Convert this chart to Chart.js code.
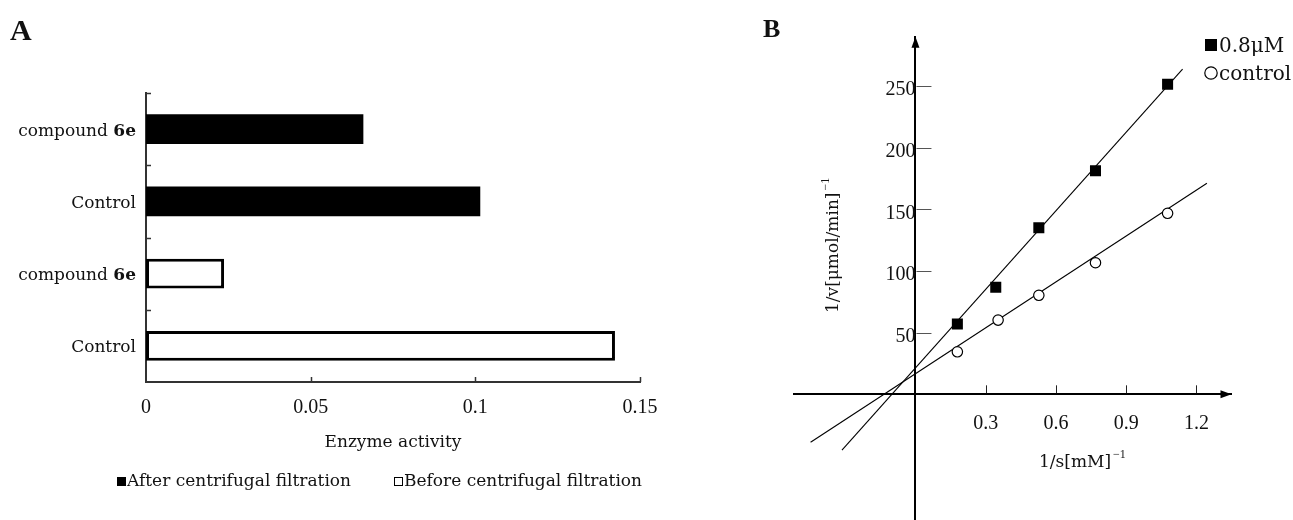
<!DOCTYPE html>
<html><head><meta charset="utf-8">
<script src="https://cdn.jsdelivr.net/npm/chart.js@4.4.1/dist/chart.umd.min.js"></script>
<style>
html,body{margin:0;padding:0;background:#fff;width:1293px;height:520px;overflow:hidden}
#ca{position:absolute;left:0;top:0}
#cb{position:absolute;left:760px;top:0}
</style></head><body>
<canvas id="ca" width="700" height="520"></canvas>
<canvas id="cb" width="533" height="520"></canvas>
<script>
// ---------- Panel A data ----------
const categoriesA = ['compound 6e', 'Control', 'compound 6e', 'Control'];
const afterFiltration = [0.066, 0.1015, null, null];
const beforeFiltration = [null, null, 0.0237, 0.1424];
const xTicksA = [0, 0.05, 0.1, 0.15];
const seriesNamesA = ['After centrifugal filtration', 'Before centrifugal filtration'];
const axisTitleA = 'Enzyme activity';

// ---------- Panel B data ----------
const invS_inhib = [0.179, 0.343, 0.527, 0.769, 1.077];
const invV_inhib = [57.0, 86.8, 135.1, 181.3, 251.4];
const invS_ctrl = [0.179, 0.353, 0.527, 0.769, 1.077];
const invV_ctrl = [34.5, 60.2, 80.3, 106.7, 146.8];
const fitInhibX = [-0.314, 1.141];
const fitInhibY = [-45.2, 263.8];
const fitCtrlX = [-0.448, 1.245];
const fitCtrlY = [-38.9, 171.1];
const xTicksB = [0.3, 0.6, 0.9, 1.2];
const yTicksB = [50, 100, 150, 200, 250];
const seriesNamesB = ['0.8\u03BCM', 'control'];
const xTitleB = '1/s[mM]';
const yTitleB = '1/v[\u03BCmol/min]';
const titleSup = '\u22121';

const WORD = '"DejaVu Serif", serif';
const NUM = '"Liberation Serif", serif';
const INK = '#111';

function zip(a, b) { return a.map((v, i) => ({x: v, y: b[i]})); }

function noPad(s) { s.paddingTop = 0; s.paddingBottom = 0; s.paddingLeft = 0; s.paddingRight = 0; }

function drawCatLabel(ctx, text, xRight, y) {
  const m = text.match(/^(.*\s)(\S*\d\S*)$/);
  let normal = text, bold = '';
  if (m) { normal = m[1]; bold = m[2]; }
  ctx.font = '17px ' + WORD; const wn = ctx.measureText(normal).width;
  ctx.font = 'bold 17px ' + WORD; const wb = bold ? ctx.measureText(bold).width : 0;
  const x = xRight - wn - wb;
  ctx.textAlign = 'left'; ctx.textBaseline = 'alphabetic';
  ctx.font = '17px ' + WORD; ctx.fillText(normal, x, y);
  if (bold) { ctx.font = 'bold 17px ' + WORD; ctx.fillText(bold, x + wn, y); }
}

// ---------- Panel A ----------
const pluginA = {
  id: 'decorA',
  afterDraw(chart) {
    const ctx = chart.ctx, ca = chart.chartArea;
    const xs = chart.scales.x, ys = chart.scales.y;
    ctx.save();
    ctx.fillStyle = INK;
    ctx.font = 'bold 30px ' + NUM;
    ctx.textAlign = 'left'; ctx.textBaseline = 'alphabetic';
    ctx.fillText('A', 10, 40);
    categoriesA.forEach((c, i) => {
      drawCatLabel(ctx, c, ca.left - 10, ys.getPixelForValue(i) + 6.5);
    });
    ctx.strokeStyle = '#333'; ctx.lineWidth = 1.5;
    for (let i = 0; i < categoriesA.length; i++) {
      const y = Math.round(ys.getPixelForValue(i - 0.5)) + 0.5;
      ctx.beginPath(); ctx.moveTo(ca.left, y); ctx.lineTo(ca.left + 5, y); ctx.stroke();
    }
    xTicksA.slice(1).forEach(v => {
      const x = Math.round(xs.getPixelForValue(v)) + 0.5;
      ctx.beginPath(); ctx.moveTo(x, ca.bottom); ctx.lineTo(x, ca.bottom - 5); ctx.stroke();
    });
    ctx.font = '17px ' + WORD; ctx.textAlign = 'center';
    ctx.fillText(axisTitleA, (ca.left + ca.right) / 2, 447);
    const legX = [117, 394];
    chart.data.datasets.forEach((ds, i) => {
      const x = legX[i];
      ctx.fillStyle = ds.backgroundColor;
      ctx.fillRect(x, 477, 9, 9);
      ctx.strokeStyle = '#000'; ctx.lineWidth = 1;
      if (ds.backgroundColor !== '#000') ctx.strokeRect(x + 0.5, 477.5, 8, 8);
      ctx.fillStyle = INK; ctx.font = '17px ' + WORD; ctx.textAlign = 'left';
      ctx.fillText(ds.label, x + 10, 486);
    });
    ctx.restore();
  }
};

new Chart(document.getElementById('ca'), {
  type: 'bar',
  data: {
    labels: categoriesA,
    datasets: [
      {label: seriesNamesA[0], data: afterFiltration, backgroundColor: '#000', borderColor: '#000',
       borderWidth: 0, barPercentage: 0.41, categoryPercentage: 1},
      {label: seriesNamesA[1], data: beforeFiltration, backgroundColor: '#fff', borderColor: '#000',
       borderWidth: 3, borderSkipped: false, barPercentage: 0.41, categoryPercentage: 1}
    ]
  },
  options: {
    indexAxis: 'y', responsive: false, animation: false,
    layout: {autoPadding: false, padding: {left: 0, right: 60, top: 93, bottom: 0}},
    plugins: {legend: {display: false}, tooltip: {enabled: false}},
    scales: {
      x: {
        type: 'linear', min: 0, max: 0.15, stacked: true, position: 'bottom',
        afterBuildTicks: s => { s.ticks = xTicksA.map(v => ({value: v})); },
        afterFit: s => { s.height = 138; },
        grid: {display: false, drawTicks: false},
        border: {display: true, color: '#333', width: 2},
        ticks: {font: {family: NUM, size: 20}, color: INK, padding: 14, maxRotation: 0, autoSkip: false,
                callback: v => String(v)}
      },
      y: {
        type: 'category', stacked: true, offset: true,
        afterFit: s => { s.width = 146; },
        grid: {display: false, drawTicks: false},
        border: {display: true, color: '#333', width: 2},
        ticks: {display: false}
      }
    }
  },
  plugins: [pluginA]
});

// ---------- Panel B ----------
const pluginB = {
  id: 'decorB',
  afterDraw(chart) {
    const ctx = chart.ctx, ca = chart.chartArea;
    const xs = chart.scales.x, ys = chart.scales.y;
    const x0 = xs.getPixelForValue(0), y0 = ys.getPixelForValue(0);
    ctx.save();
    ctx.fillStyle = INK;
    ctx.font = 'bold 26px ' + NUM;
    ctx.textAlign = 'left'; ctx.textBaseline = 'alphabetic';
    ctx.fillText('B', 3, 37);
    ctx.fillStyle = '#000';
    ctx.beginPath(); ctx.moveTo(x0, ca.top); ctx.lineTo(x0 - 4, ca.top + 11); ctx.lineTo(x0 + 4, ca.top + 11); ctx.closePath(); ctx.fill();
    ctx.beginPath(); ctx.moveTo(ca.right, y0); ctx.lineTo(ca.right - 11, y0 - 4); ctx.lineTo(ca.right - 11, y0 + 4); ctx.closePath(); ctx.fill();
    ctx.strokeStyle = '#555'; ctx.lineWidth = 1;
    yTicksB.forEach(v => {
      const y = Math.round(ys.getPixelForValue(v)) + 0.5;
      ctx.beginPath(); ctx.moveTo(x0 + 1, y); ctx.lineTo(x0 + 16, y); ctx.stroke();
    });
    ctx.strokeStyle = '#222';
    xTicksB.forEach(v => {
      const x = Math.round(xs.getPixelForValue(v)) + 0.5;
      ctx.beginPath(); ctx.moveTo(x, y0 - 1); ctx.lineTo(x, y0 - 9); ctx.stroke();
    });
    ctx.fillStyle = INK;
    ctx.font = '17px ' + WORD; ctx.textAlign = 'left';
    ctx.fillText(xTitleB, 279, 467);
    const wx = ctx.measureText(xTitleB).width;
    ctx.font = '12px ' + NUM;
    ctx.fillText(titleSup, 279 + wx + 2, 458);
    ctx.save();
    ctx.translate(78, 313);
    ctx.rotate(-Math.PI / 2);
    ctx.font = '17px ' + WORD;
    ctx.fillText(yTitleB, 0, 0);
    const wy = ctx.measureText(yTitleB).width;
    ctx.font = '12px ' + NUM;
    ctx.fillText(titleSup, wy + 2, -9);
    ctx.restore();
    const d0 = chart.data.datasets[0], d1 = chart.data.datasets[1];
    ctx.fillStyle = d0.backgroundColor;
    ctx.fillRect(445, 39, 12, 12);
    ctx.fillStyle = INK; ctx.font = '20px ' + WORD;
    ctx.fillText(d0.label, 459, 52);
    ctx.beginPath(); ctx.arc(451, 73, 6.2, 0, Math.PI * 2);
    ctx.fillStyle = d1.backgroundColor; ctx.fill();
    ctx.strokeStyle = d1.borderColor; ctx.lineWidth = 1.2; ctx.stroke();
    ctx.fillStyle = INK;
    ctx.fillText(d1.label, 459, 79.5);
    ctx.restore();
  }
};

new Chart(document.getElementById('cb'), {
  type: 'scatter',
  data: {
    datasets: [
      {label: seriesNamesB[0], data: zip(invS_inhib, invV_inhib), pointStyle: 'rect', pointRadius: 7.8,
       backgroundColor: '#000', borderColor: '#000', borderWidth: 0, order: 0},
      {label: seriesNamesB[1], data: zip(invS_ctrl, invV_ctrl), pointStyle: 'circle', pointRadius: 5.2,
       backgroundColor: '#fff', borderColor: '#000', borderWidth: 1.2, order: 0},
      {label: 'fit ' + seriesNamesB[0], data: zip(fitInhibX, fitInhibY), showLine: true, pointRadius: 0,
       borderColor: '#000', borderWidth: 1.1, order: 1},
      {label: 'fit ' + seriesNamesB[1], data: zip(fitCtrlX, fitCtrlY), showLine: true, pointRadius: 0,
       borderColor: '#000', borderWidth: 1.1, order: 1}
    ]
  },
  options: {
    responsive: false, animation: false,
    layout: {autoPadding: false, padding: {left: 34.2, right: 61.5, top: 36.7, bottom: 0}},
    plugins: {legend: {display: false}, tooltip: {enabled: false}},
    scales: {
      x: {
        type: 'linear', min: -0.518, max: 1.35, position: {y: 0},
        afterBuildTicks: s => { s.ticks = xTicksB.map(v => ({value: v})); },
        afterFit: s => { s.height = 0; noPad(s); },
        grid: {display: false, drawTicks: false},
        border: {display: true, color: '#000', width: 2},
        ticks: {font: {family: NUM, size: 20}, color: INK, padding: 17, maxRotation: 0, autoSkip: false,
                callback: v => String(v)}
      },
      y: {
        type: 'linear', min: -101.9, max: 290, position: {x: 0},
        afterBuildTicks: s => { s.ticks = yTicksB.map(v => ({value: v})); },
        afterFit: s => { s.width = 0; noPad(s); },
        grid: {display: false, drawTicks: false},
        border: {display: true, color: '#000', width: 2},
        ticks: {font: {family: NUM, size: 20}, color: INK, padding: 13, labelOffset: 4, autoSkip: false,
                callback: v => String(v)}
      }
    }
  },
  plugins: [pluginB]
});
</script>
</body></html>
